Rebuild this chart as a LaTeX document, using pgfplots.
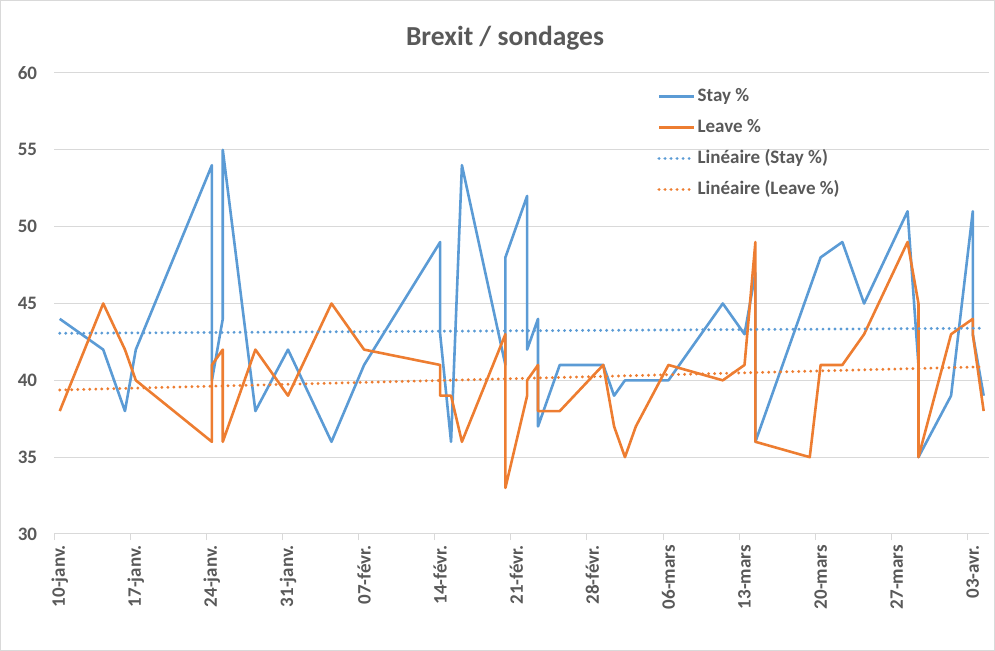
\documentclass[border=0pt]{standalone}
\usepackage{pgfplots}
\usepackage{pgfplotstable}
\pgfplotsset{compat=1.18}
\usepackage{fontspec}
\setmainfont{Carlito}
\definecolor{stay}{HTML}{5B9BD5}
\definecolor{leave}{HTML}{ED7D31}
\definecolor{txt}{HTML}{595959}
\definecolor{gridc}{HTML}{D9D9D9}

\pgfplotstableread{
day stay leave
0 44 38
4 42 45
6 38 42
7 42 40
14 54 36
14 40 41
15 44 42
15 55 36
18 38 42
21 42 39
25 36 45
28 41 42
35 49 41
35 43 39
36 36 39
37 54 36
41 41 43
41 48 33
43 52 39
43 42 40
44 44 41
44 37 38
46 41 38
50 41 41
51 39 37
52 40 35
53 40 37
56 40 41
61 45 40
63 43 41
64 47 49
64 36 36
69 46 35
70 48 41
72 49 41
74 45 43
78 51 49
79 41 45
79 35 35
82 39 43
84 51 44
84 43 43
85 39 38
}\polls

\pgfplotstableread{
day stay leave
0 43.06 39.37
85 43.39 40.88
}\trend

\begin{document}
\begin{tikzpicture}
\path[use as bounding box] (0,0) rectangle (995bp,651bp);
\draw[gridc, line width=1bp] (0.5bp,0.5bp) rectangle (994.5bp,650.5bp);
\node[font=\fontsize{27.5bp}{32bp}\selectfont\bfseries, text=txt] at (505bp,613bp) {Brexit / sondages};
\begin{axis}[
  at={(54.3bp,117bp)}, anchor=south west,
  scale only axis, width=934.8bp, height=461bp,
  xmin=-0.5, xmax=85.5, ymin=30, ymax=60,
  ytick={30,35,...,60},
  xtick={0,7,...,84},
  xticklabels={10-janv.,17-janv.,24-janv.,31-janv.,07-févr.,14-févr.,21-févr.,28-févr.,06-mars,13-mars,20-mars,27-mars,03-avr.},
  major tick length=0pt,
  extra x ticks={-0.5,6.5,...,83.5},
  extra x tick labels={},
  extra x tick style={major tick length=6bp, tick align=outside, major tick style={gridc, line width=1bp}},
  axis x line*=bottom, axis y line*=left,
  x axis line style={-, gridc, line width=1bp},
  y axis line style={draw=none},
  ymajorgrids, grid style={gridc, line width=1bp},
  /pgf/number format/assume math mode=true,
  tick label style={font=\fontsize{19bp}{22bp}\selectfont\bfseries, text=txt},
  yticklabel style={inner sep=0pt, anchor=east, xshift=-17bp},
  xticklabel style={inner sep=0pt, yshift=-11bp, rotate=90, anchor=east},
  legend style={at={(0.645,0.9696)}, anchor=north west, draw=none, fill=none, inner sep=0pt,
    font=\fontsize{19bp}{22bp}\selectfont\bfseries, text=txt, row sep=13bp,
    nodes={inner ysep=0pt, text height=14bp, text depth=4bp}},
  legend cell align=left,
  legend image code/.code={\draw[#1] (0bp,0bp) -- (35bp,0bp);},
]
\addplot[stay, line width=2.6bp, line join=round] table[x=day,y=stay]{\polls};
\addlegendentry{Stay \%}
\addplot[leave, line width=2.6bp, line join=round] table[x=day,y=leave]{\polls};
\addlegendentry{Leave \%}
\addplot[stay, line width=3.2bp, line cap=round, dash pattern=on 0.01bp off 6bp] table[x=day,y=stay]{\trend};
\addlegendentry{Linéaire (Stay \%)}
\addplot[leave, line width=3.2bp, line cap=round, dash pattern=on 0.01bp off 6bp] table[x=day,y=leave]{\trend};
\addlegendentry{Linéaire (Leave \%)}
\end{axis}
\end{tikzpicture}
\end{document}
